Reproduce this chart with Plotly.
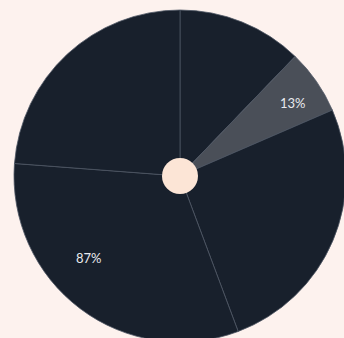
import plotly.graph_objects as go

# slice shares (read from angular extents), clockwise from 12 o'clock
segments = ["s1", "s2", "s3", "s4", "s5"]
shares = [12.2, 6.3, 25.8, 31.9, 23.8]
colors = ["#18202c", "#4a4f58", "#18202c", "#18202c", "#18202c"]
minor_label = "13%"
major_label = "87%"

W, H = 348, 344
cx, cy, r = 180, 176, 166
hr = 18
font = dict(color="#e8eaee", size=13, family="Lato")

fig = go.Figure()
fig.add_trace(go.Pie(
    labels=segments, values=shares, textinfo="none",
    marker=dict(colors=colors, line=dict(color="#4d5563", width=0.8)),
    sort=False, direction="clockwise", rotation=0,
    hoverinfo="skip", showlegend=False,
    domain=dict(x=[(cx - r) / W, (cx + r) / W],
                y=[(H - cy - r) / H, (H - cy + r) / H]),
))
fig.add_trace(go.Pie(
    labels=["hole"], values=[1], textinfo="none",
    marker=dict(colors=["#fce5d6"], line=dict(width=0)),
    hoverinfo="skip", showlegend=False,
    domain=dict(x=[(cx - hr) / W, (cx + hr) / W],
                y=[(H - cy - hr) / H, (H - cy + hr) / H]),
))
for txt, px, py in [(minor_label, 293, 103), (major_label, 89, 258)]:
    fig.add_annotation(text=txt, x=px / W, y=(H - py) / H,
                       xref="paper", yref="paper", xanchor="center", yanchor="middle",
                       showarrow=False, font=font)
fig.update_layout(
    width=W, height=H, margin=dict(l=0, r=0, t=0, b=0),
    paper_bgcolor="#fdf2ee", plot_bgcolor="#fdf2ee",
    showlegend=False,
)
fig.write_html("out.html", post_script="document.documentElement.style.overflow='hidden';document.body.style.overflow='hidden';")
